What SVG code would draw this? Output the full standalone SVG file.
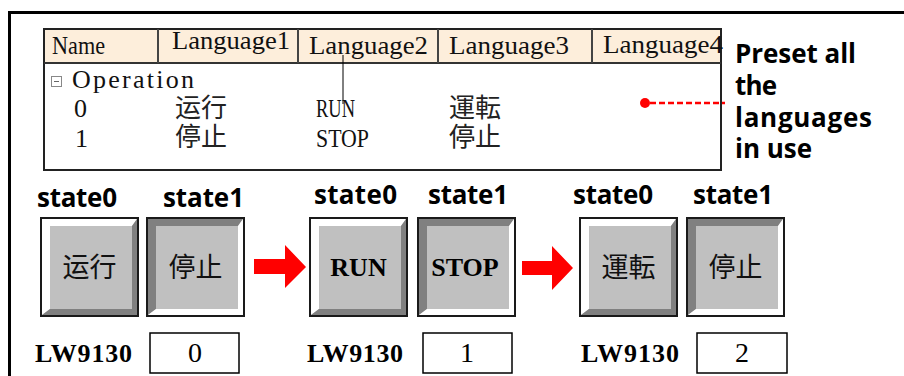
<svg xmlns="http://www.w3.org/2000/svg" xmlns:xlink="http://www.w3.org/1999/xlink" width="904" height="376" viewBox="0 0 904 376">
<style>
.tbl{font-family:"Liberation Serif","Noto Sans CJK SC",serif;font-size:26px;fill:#111}
.cjk{font-family:"Noto Sans CJK SC",sans-serif;font-size:27px;fill:#111}
.cjkjp{font-family:"Noto Sans CJK JP",sans-serif;font-size:27px;fill:#111}
.tcjk{font-family:"Noto Sans CJK SC",sans-serif;font-size:26px;fill:#222}
.tcjkjp{font-family:"Noto Sans CJK JP",sans-serif;font-size:26px;fill:#222}
.lbl{font-family:"Open Sans","Noto Sans",sans-serif;font-weight:bold;font-size:26px;fill:#000}
.btnser{font-family:"Liberation Serif",serif;font-weight:bold;font-size:26px;fill:#000;text-anchor:middle}
.lw{font-family:"Liberation Serif",serif;font-weight:bold;font-size:26px;fill:#000}
.val{font-family:"Liberation Serif",serif;font-size:28px;fill:#000;text-anchor:middle}
.box{fill:#fff;stroke:#000;stroke-width:1.5}
.arrow{fill:#ff0000}
</style>
<defs>
<g id="raised">
<rect x="0" y="0" width="97" height="98" fill="#c0c0c0"/>
<polygon points="1,1 96,1 91,8 9,8 9,91 1,97" fill="#ffffff"/>
<polygon points="96,1 96,97 1,97 9,91 91,91 91,8" fill="#808080"/>
<rect x="0" y="0" width="97" height="98" fill="none" stroke="#1a1a1a" stroke-width="2"/>
</g>
<g id="pressed">
<rect x="0" y="0" width="97" height="98" fill="#c0c0c0"/>
<polygon points="1,1 96,1 91,8 9,8 9,91 1,97" fill="#808080"/>
<polygon points="96,1 96,97 1,97 9,91 91,91 91,8" fill="#ffffff"/>
<rect x="0" y="0" width="97" height="98" fill="none" stroke="#1a1a1a" stroke-width="2"/>
</g>
</defs>
<rect width="904" height="376" fill="#fff"/>
<path d="M9.5 376 V12.5 H904" fill="none" stroke="#000" stroke-width="3"/>

<g id="table">
<rect x="44" y="29" width="677" height="34" fill="#fdeedb"/>
<rect x="44" y="29" width="677" height="141" fill="none" stroke="#222" stroke-width="2"/>
<line x1="44" y1="63" x2="721" y2="63" stroke="#333" stroke-width="2"/>
<g stroke="#444" stroke-width="2">
<line x1="158" y1="29" x2="158" y2="63"/>
<line x1="298" y1="29" x2="298" y2="63"/>
<line x1="438" y1="29" x2="438" y2="63"/>
<line x1="592" y1="29" x2="592" y2="63"/>
</g>
<line x1="343" y1="55" x2="343" y2="104" stroke="#000" stroke-width="1"/>
<text class="tbl" x="52" y="54" textLength="53" lengthAdjust="spacingAndGlyphs">Name</text>
<text class="tbl" x="172" y="49" textLength="118" lengthAdjust="spacingAndGlyphs">Language1</text>
<text class="tbl" x="309" y="54" textLength="119" lengthAdjust="spacingAndGlyphs">Language2</text>
<text class="tbl" x="449" y="54" textLength="120" lengthAdjust="spacingAndGlyphs">Language3</text>
<text class="tbl" x="603" y="53" textLength="120" lengthAdjust="spacingAndGlyphs">Language4</text>
<rect x="51.5" y="76.5" width="10" height="10" fill="#fff" stroke="#888" stroke-width="1"/>
<line x1="54" y1="81.5" x2="59" y2="81.5" stroke="#666" stroke-width="1"/>
<text class="tbl" x="72" y="88" textLength="122">Operation</text>
<text class="tbl" x="74" y="117">0</text>
<text class="tcjk" x="175" y="117">运行</text>
<text class="tbl" x="316" y="117" textLength="39" lengthAdjust="spacingAndGlyphs">RUN</text>
<text class="tcjkjp" x="449" y="117">運転</text>
<text class="tbl" x="75" y="147">1</text>
<text class="tcjk" x="175" y="146">停止</text>
<text class="tbl" x="316" y="147" textLength="53" lengthAdjust="spacingAndGlyphs">STOP</text>
<text class="tcjkjp" x="449" y="146">停止</text>
</g>

<g id="note">
<text class="lbl" x="735" y="63" textLength="121">Preset all</text>
<text class="lbl" x="735" y="95" textLength="42">the</text>
<text class="lbl" x="735" y="127" textLength="137">languages</text>
<text class="lbl" x="735" y="158" textLength="77">in use</text>
</g>

<g id="btn1">
<text class="lbl" x="37" y="207" textLength="80">state0</text>
<use xlink:href="#raised" x="41" y="218"/>
<text class="cjk" x="89.5" y="277" text-anchor="middle">运行</text>
</g>
<g id="btn2">
<text class="lbl" x="163" y="207" textLength="81">state1</text>
<use xlink:href="#pressed" x="147" y="218"/>
<text class="cjk" x="195.5" y="277" text-anchor="middle">停止</text>
</g>
<g id="btn3">
<text class="lbl" x="314" y="204" textLength="83">state0</text>
<use xlink:href="#raised" x="310" y="218"/>
<text class="btnser" x="358.5" y="276">RUN</text>
</g>
<g id="btn4">
<text class="lbl" x="428" y="204" textLength="80">state1</text>
<use xlink:href="#pressed" x="418" y="218"/>
<text class="btnser" x="465" y="276">STOP</text>
</g>
<g id="btn5">
<text class="lbl" x="573" y="204" textLength="80">state0</text>
<use xlink:href="#raised" x="580" y="218"/>
<text class="cjkjp" x="628.5" y="277" text-anchor="middle">運転</text>
</g>
<g id="btn6">
<text class="lbl" x="693" y="204" textLength="80">state1</text>
<use xlink:href="#pressed" x="687" y="218"/>
<text class="cjk" x="735.5" y="277" text-anchor="middle">停止</text>
</g>

<g id="reg1">
<text class="lw" x="35" y="362" textLength="97">LW9130</text>
<rect class="box" x="150" y="333" width="89" height="40"/>
<text class="val" x="195" y="362">0</text>
</g>
<g id="reg2">
<text class="lw" x="307" y="362" textLength="96">LW9130</text>
<rect class="box" x="423" y="333" width="89" height="40"/>
<text class="val" x="467" y="362">1</text>
</g>
<g id="reg3">
<text class="lw" x="581" y="362" textLength="98">LW9130</text>
<rect class="box" x="697" y="333" width="90" height="40"/>
<text class="val" x="742" y="362">2</text>
</g>

<g id="connectors">
<circle cx="645" cy="103" r="5" fill="#ff0000"/>
<line x1="650" y1="103" x2="725" y2="103" stroke="#ff0000" stroke-width="2.5" stroke-dasharray="6 3"/>
<polygon class="arrow" points="254,259 285,259 285,245 306,267 285,288 285,274 254,274"/>
<polygon class="arrow" points="522,261 552,261 552,246 573,268 552,290 552,275 522,275"/>
</g>
</svg>
